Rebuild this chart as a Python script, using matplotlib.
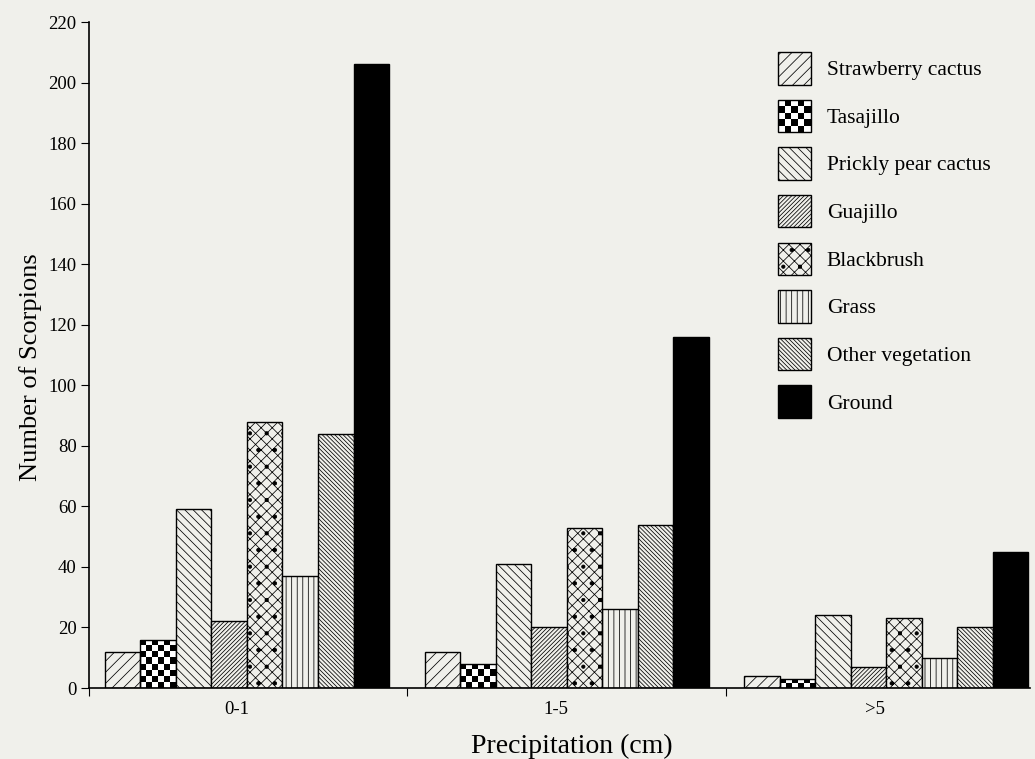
"""Scorpion counts by perch type and precipitation class."""

import matplotlib

matplotlib.use("Agg")
import matplotlib.pyplot as plt
import numpy as np
from matplotlib.legend_handler import HandlerBase
from matplotlib.patches import Patch, Rectangle

BG = "#f0f0eb"

precip_classes = ["0-1", "1-5", ">5"]
perch_types = [
    "Strawberry cactus",
    "Tasajillo",
    "Prickly pear cactus",
    "Guajillo",
    "Blackbrush",
    "Grass",
    "Other vegetation",
    "Ground",
]
strawberry = [12, 12, 4]
tasajillo = [16, 8, 3]
prickly_pear = [59, 41, 24]
guajillo = [22, 20, 7]
blackbrush = [88, 53, 23]
grass = [37, 26, 10]
other_veg = [84, 54, 20]
ground = [206, 116, 45]

series = [strawberry, tasajillo, prickly_pear, guajillo, blackbrush, grass, other_veg, ground]
hatches = ["///", None, "\\" * 4, "/" * 8, "xxx.", "|||", "\\" * 8, None]
faces = [BG, "none", BG, BG, BG, BG, BG, "black"]


# ── checkerboard helpers (no built-in hatch for it) ───────────────────

def checker(nx, ny):
    i, j = np.indices((ny, nx))
    return (i + j) % 2


class HandlerChecker(HandlerBase):
    def create_artists(self, legend, orig_handle, xdescent, ydescent, width, height, fontsize, trans):
        n = 5
        cw, ch = width / n, height / n
        arts = [Rectangle((-xdescent, -ydescent), width, height, facecolor="white", edgecolor="none", transform=trans)]
        cells = checker(n, n)
        for r in range(n):
            for c in range(n):
                if cells[r, c]:
                    arts.append(Rectangle((-xdescent + c * cw, -ydescent + r * ch), cw, ch,
                                          facecolor="black", edgecolor="none", transform=trans))
        arts.append(Rectangle((-xdescent, -ydescent), width, height, facecolor="none",
                              edgecolor="black", linewidth=1.0, transform=trans))
        return arts


plt.rcParams["font.family"] = ["Liberation Serif", "DejaVu Serif"]
plt.rcParams["hatch.linewidth"] = 0.55

fig = plt.figure(figsize=(10.35, 7.59), dpi=100, facecolor=BG)
ax = fig.add_axes([0.086, 0.0935, 0.909, 0.8775])
ax.set_facecolor(BG)

group_step = len(perch_types) + 1
base = np.arange(len(precip_classes)) * group_step

handles = []
containers = []
for k, vals in enumerate(series):
    bars = ax.bar(base + k, vals, width=1.0, align="edge", facecolor=faces[k],
                  edgecolor="black", linewidth=1.0, hatch=hatches[k], zorder=2)
    containers.append(bars)
    handles.append(Patch(facecolor=faces[k] if faces[k] != "none" else "white",
                         edgecolor="black", linewidth=1.0, hatch=hatches[k]))

# Tasajillo checkerboard fill, clipped to its bars
for patch in containers[1]:
    x0, w, h = patch.get_x(), patch.get_width(), patch.get_height()
    ny = max(1, int(round(h / 2.0)))
    im = ax.imshow(checker(6, ny), cmap="gray_r", interpolation="nearest", aspect="auto",
                   extent=(x0, x0 + w, 0, h), origin="lower", zorder=1.5)
    im.set_clip_path(patch)

ax.set_xlim(-0.45, base[-1] + len(perch_types) + 0.05)
ax.set_ylim(0, 220)
ax.set_yticks(np.arange(0, 221, 20))
ax.set_xticks(base + len(perch_types) / 2 - 0.3)
ax.set_xticklabels(precip_classes)
ax.set_xticks([-0.45] + list(base[1:] - 0.5), minor=True)

for side in ("top", "right"):
    ax.spines[side].set_visible(False)
for side in ("left", "bottom"):
    ax.spines[side].set_linewidth(1.2)

ax.tick_params(axis="y", direction="out", length=6, width=0.8, pad=3, labelsize=13.5)
ax.tick_params(axis="x", which="major", length=0, pad=9, labelsize=13.5)
ax.tick_params(axis="x", which="minor", direction="out", length=6, width=0.8)

ax.set_ylabel("Number of Scorpions", fontsize=19)
ax.yaxis.set_label_coords(-0.05, 0.482)
ax.set_xlabel("Precipitation (cm)", fontsize=20, labelpad=12)
ax.xaxis.label.set_x(0.513)

leg = ax.legend(handles, perch_types, loc="upper left", bbox_to_anchor=(778 / 1035, 1 - 52 / 759),
                bbox_transform=fig.transFigure, frameon=False, fontsize=15.5, borderpad=0,
                borderaxespad=0, handlelength=1.53, handleheight=1.95, labelspacing=0.7,
                handletextpad=0.74, handler_map={handles[1]: HandlerChecker()})

fig.savefig("out.png", dpi=100, facecolor=BG)
